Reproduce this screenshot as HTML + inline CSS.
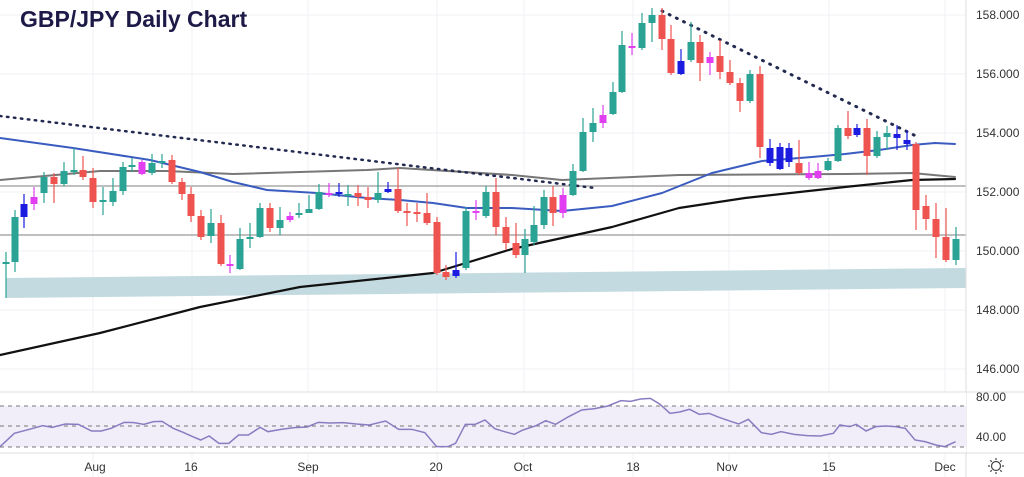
<!DOCTYPE html>
<html><head><meta charset="utf-8"><style>
html,body{margin:0;padding:0;background:#fff;width:1024px;height:477px;overflow:hidden}
svg{display:block;font-family:"Liberation Sans",sans-serif}
</style></head><body>
<svg id="s" width="1024" height="477" viewBox="0 0 1024 477" xmlns="http://www.w3.org/2000/svg">
<g stroke="#f0f2f5" stroke-width="1">
<line x1="93" y1="0" x2="93" y2="477"/><line x1="192" y1="0" x2="192" y2="477"/><line x1="308" y1="0" x2="308" y2="477"/><line x1="437" y1="0" x2="437" y2="477"/><line x1="524" y1="0" x2="524" y2="477"/><line x1="633" y1="0" x2="633" y2="477"/><line x1="729" y1="0" x2="729" y2="477"/><line x1="829" y1="0" x2="829" y2="477"/><line x1="945" y1="0" x2="945" y2="477"/>
<line x1="0" y1="15" x2="966" y2="15"/><line x1="0" y1="74" x2="966" y2="74"/><line x1="0" y1="133" x2="966" y2="133"/><line x1="0" y1="192" x2="966" y2="192"/><line x1="0" y1="251" x2="966" y2="251"/><line x1="0" y1="310" x2="966" y2="310"/><line x1="0" y1="369" x2="966" y2="369"/>
</g>
<polygon points="6,278 966,268 966,288 6,298" fill="#c3dbe0"/>
<line x1="0" y1="186" x2="966" y2="186" stroke="#aaa" stroke-width="1.5"/>
<line x1="0" y1="235" x2="966" y2="235" stroke="#aaa" stroke-width="1.5"/>
<g fill="none" stroke-linejoin="round" stroke-linecap="round">
<polyline stroke="#111" stroke-width="2.2" points="0,355 100,333 200,307 300,287 433,273 512,249 612,227 679,208 745,198 845,187 912,180 955,179"/>
<polyline stroke="#777" stroke-width="2" points="0,180 100,171 167,171 233,174 367,170 400,168 512,175 562,180 679,175 845,174 912,173 955,177"/>
<polyline stroke="#3a5cc0" stroke-width="2" points="0,138 73,148 150,160 200,172 233,182 267,190 317,193 367,198 400,200 433,203 467,208 512,208 562,211 612,206 662,193 712,173 762,161 812,157 845,154 879,150 912,145 935,143 955,144"/>
</g>
<line x1="0" y1="116" x2="595" y2="188" stroke="#222a50" stroke-width="2.5" stroke-dasharray="1.5 5.5" stroke-linecap="round"/>
<line x1="662" y1="11" x2="920" y2="138" stroke="#222a50" stroke-width="3" stroke-dasharray="1 7" stroke-linecap="round"/>
<g id="c"></g>
<rect x="966" y="0" width="58" height="477" fill="#fff"/>
<line x1="966" y1="0" x2="966" y2="477" stroke="#ddd"/>
<g font-size="12" fill="#333">
<text x="976" y="19">158.000</text><text x="976" y="78">156.000</text><text x="976" y="137">154.000</text><text x="976" y="196">152.000</text><text x="976" y="255">150.000</text><text x="976" y="314">148.000</text><text x="976" y="373">146.000</text>
<text x="976" y="401">80.00</text><text x="976" y="441">40.00</text>
</g>
<rect x="0" y="392" width="966" height="61" fill="#fff"/>
<line x1="0" y1="392" x2="1024" y2="392" stroke="#ddd"/>
<line x1="0" y1="453" x2="1024" y2="453" stroke="#ddd"/>
<rect x="0" y="406" width="966" height="41" fill="#f1eefa"/>
<g stroke="#777" stroke-dasharray="4 4" stroke-width="1"><line x1="0" y1="406" x2="966" y2="406"/><line x1="0" y1="426" x2="966" y2="426"/><line x1="0" y1="447" x2="966" y2="447"/></g>
<g transform="translate(0,380) scale(0.6536,0.3333)"><polyline fill="none" stroke="#8a7cc0" stroke-width="1.5" vector-effect="non-scaling-stroke" points="0,200 22,160 45,148 65,137 80,142 100,132 120,133 140,153 155,153 170,145 190,127 205,128 220,133 235,125 248,124 265,145 280,157 295,170 307,180 320,168 335,190 350,190 365,165 380,165 398,142 410,155 430,148 450,143 470,141 487,127 505,129 525,128 545,132 565,135 590,123 610,148 630,148 650,158 668,200 685,200 697,190 712,133 727,133 742,120 757,146 772,155 787,163 800,150 820,137 835,122 850,133 870,110 890,90 910,86 930,78 950,62 965,64 980,57 995,55 1010,73 1025,100 1040,96 1055,88 1070,103 1085,100 1100,112 1115,122 1130,132 1145,118 1165,158 1180,163 1195,155 1215,163 1235,167 1255,168 1275,160 1285,135 1300,140 1310,133 1325,153 1340,140 1355,138 1370,140 1385,145 1400,180 1415,185 1432,195 1445,200 1462,185"/></g>
<g font-size="12" fill="#333" text-anchor="middle">
<text x="95" y="471">Aug</text><text x="191" y="471">16</text><text x="308" y="471">Sep</text><text x="436" y="471">20</text><text x="523" y="471">Oct</text><text x="633" y="471">18</text><text x="727" y="471">Nov</text><text x="829" y="471">15</text><text x="945" y="471">Dec</text>
</g>
<g transform="translate(996,466)" stroke="#444" fill="none" stroke-width="1.2"><circle r="4.5"/><path d="M0,-8V-6M0,6V8M-8,0H-6M6,0H8M-5.7,-5.7L-4.2,-4.2M4.2,4.2L5.7,5.7M-5.7,5.7L-4.2,4.2M4.2,-4.2L5.7,-5.7"/></g>
<text x="20" y="27" font-size="23" font-weight="bold" fill="#1e1a48" font-family="'Liberation Sans',sans-serif">GBP/JPY Daily Chart</text>
</svg>
<script>
var d=[[6,262,264,252,298,'g'],[15,217,262,210,272,'g'],[24,204,217,194,228,'b'],[34,197,204,187,210,'m'],[44,177,193,172,203,'g'],[54,177,184,173,203,'r'],[64,171,184,162,186,'g'],[74,170,172,148,175,'g'],[83,170,177,156,180,'r'],[93,178,202,168,208,'r'],[103,200,201,187,215,'g'],[113,191,202,178,206,'g'],[123,167,191,162,195,'g'],[132,165,167,158,172,'g'],[142,162,174,160,175,'m'],[152,163,173,154,175,'g'],[162,161,162,154,168,'g'],[172,160,182,155,184,'r'],[182,182,194,178,200,'r'],[191,194,216,187,222,'r'],[201,216,237,210,240,'r'],[211,223,236,209,243,'g'],[221,223,264,215,266,'r'],[230,264,266,255,273,'m'],[240,239,269,228,270,'g'],[250,237,239,223,248,'g'],[260,208,237,203,238,'g'],[270,208,228,203,232,'r'],[280,220,228,207,235,'g'],[290,216,220,212,222,'m'],[299,213,215,203,218,'g'],[309,209,213,195,213,'g'],[319,192,209,184,210,'g'],[329,193,195,183,197,'m'],[339,192,194,183,197,'b'],[348,194,196,185,206,'g'],[358,193,197,185,206,'r'],[368,197,200,187,208,'r'],[378,193,200,172,203,'g'],[388,189,192,182,193,'b'],[398,189,211,168,213,'r'],[407,211,213,203,226,'r'],[417,212,214,203,222,'r'],[427,213,223,193,225,'r'],[437,222,273,217,275,'r'],[446,272,277,265,280,'r'],[456,270,276,252,278,'b'],[466,211,268,207,270,'g'],[476,211,213,200,220,'m'],[486,192,216,186,218,'g'],[496,192,227,178,235,'r'],[506,227,243,217,250,'r'],[516,243,255,223,258,'r'],[525,239,255,229,273,'g'],[534,225,242,206,245,'g'],[544,197,225,190,229,'g'],[553,197,213,186,226,'r'],[563,195,213,188,218,'m'],[573,171,195,164,196,'g'],[583,132,171,118,172,'g'],[593,123,132,108,142,'g'],[603,115,123,105,128,'m'],[613,92,114,82,115,'g'],[622,45,92,31,93,'g'],[632,46,48,33,55,'m'],[642,23,48,13,50,'g'],[652,15,23,8,42,'g'],[662,15,39,8,50,'r'],[671,39,73,25,75,'r'],[681,61,74,49,75,'b'],[691,42,60,22,62,'g'],[700,42,63,35,81,'r'],[710,57,63,52,75,'m'],[720,56,72,40,79,'r'],[730,72,83,60,85,'r'],[740,83,101,78,112,'r'],[750,74,101,70,103,'g'],[760,74,147,66,158,'r'],[770,148,163,139,166,'b'],[780,147,169,143,170,'b'],[789,148,162,143,167,'b'],[799,163,173,140,175,'r'],[809,173,178,162,180,'m'],[818,171,178,163,179,'m'],[828,161,170,158,171,'g'],[838,128,161,125,162,'g'],[848,128,136,111,139,'r'],[857,128,135,124,137,'b'],[867,128,156,119,175,'r'],[877,137,156,131,158,'g'],[887,133,137,126,150,'g'],[897,134,138,125,150,'b'],[907,140,144,130,150,'b'],[916,144,210,142,230,'r'],[926,206,219,195,230,'r'],[936,219,237,203,258,'r'],[946,237,260,208,262,'r'],[956,239,260,227,265,'g']];
var col={g:'#2aa394',r:'#ef5350',b:'#1c1ce0',m:'#e03ef0'};
var h='';d.forEach(function(c){var k=col[c[5]],t=Math.min(c[1],c[2]),bh=Math.max(2,Math.abs(c[2]-c[1]));
h+='<line x1="'+c[0]+'" y1="'+c[3]+'" x2="'+c[0]+'" y2="'+c[4]+'" stroke="'+k+'" stroke-width="1.2"/><rect x="'+(c[0]-3.5)+'" y="'+t+'" width="7" height="'+bh+'" fill="'+k+'"/>';});
document.getElementById('c').innerHTML=h;
</script>
</body></html>
